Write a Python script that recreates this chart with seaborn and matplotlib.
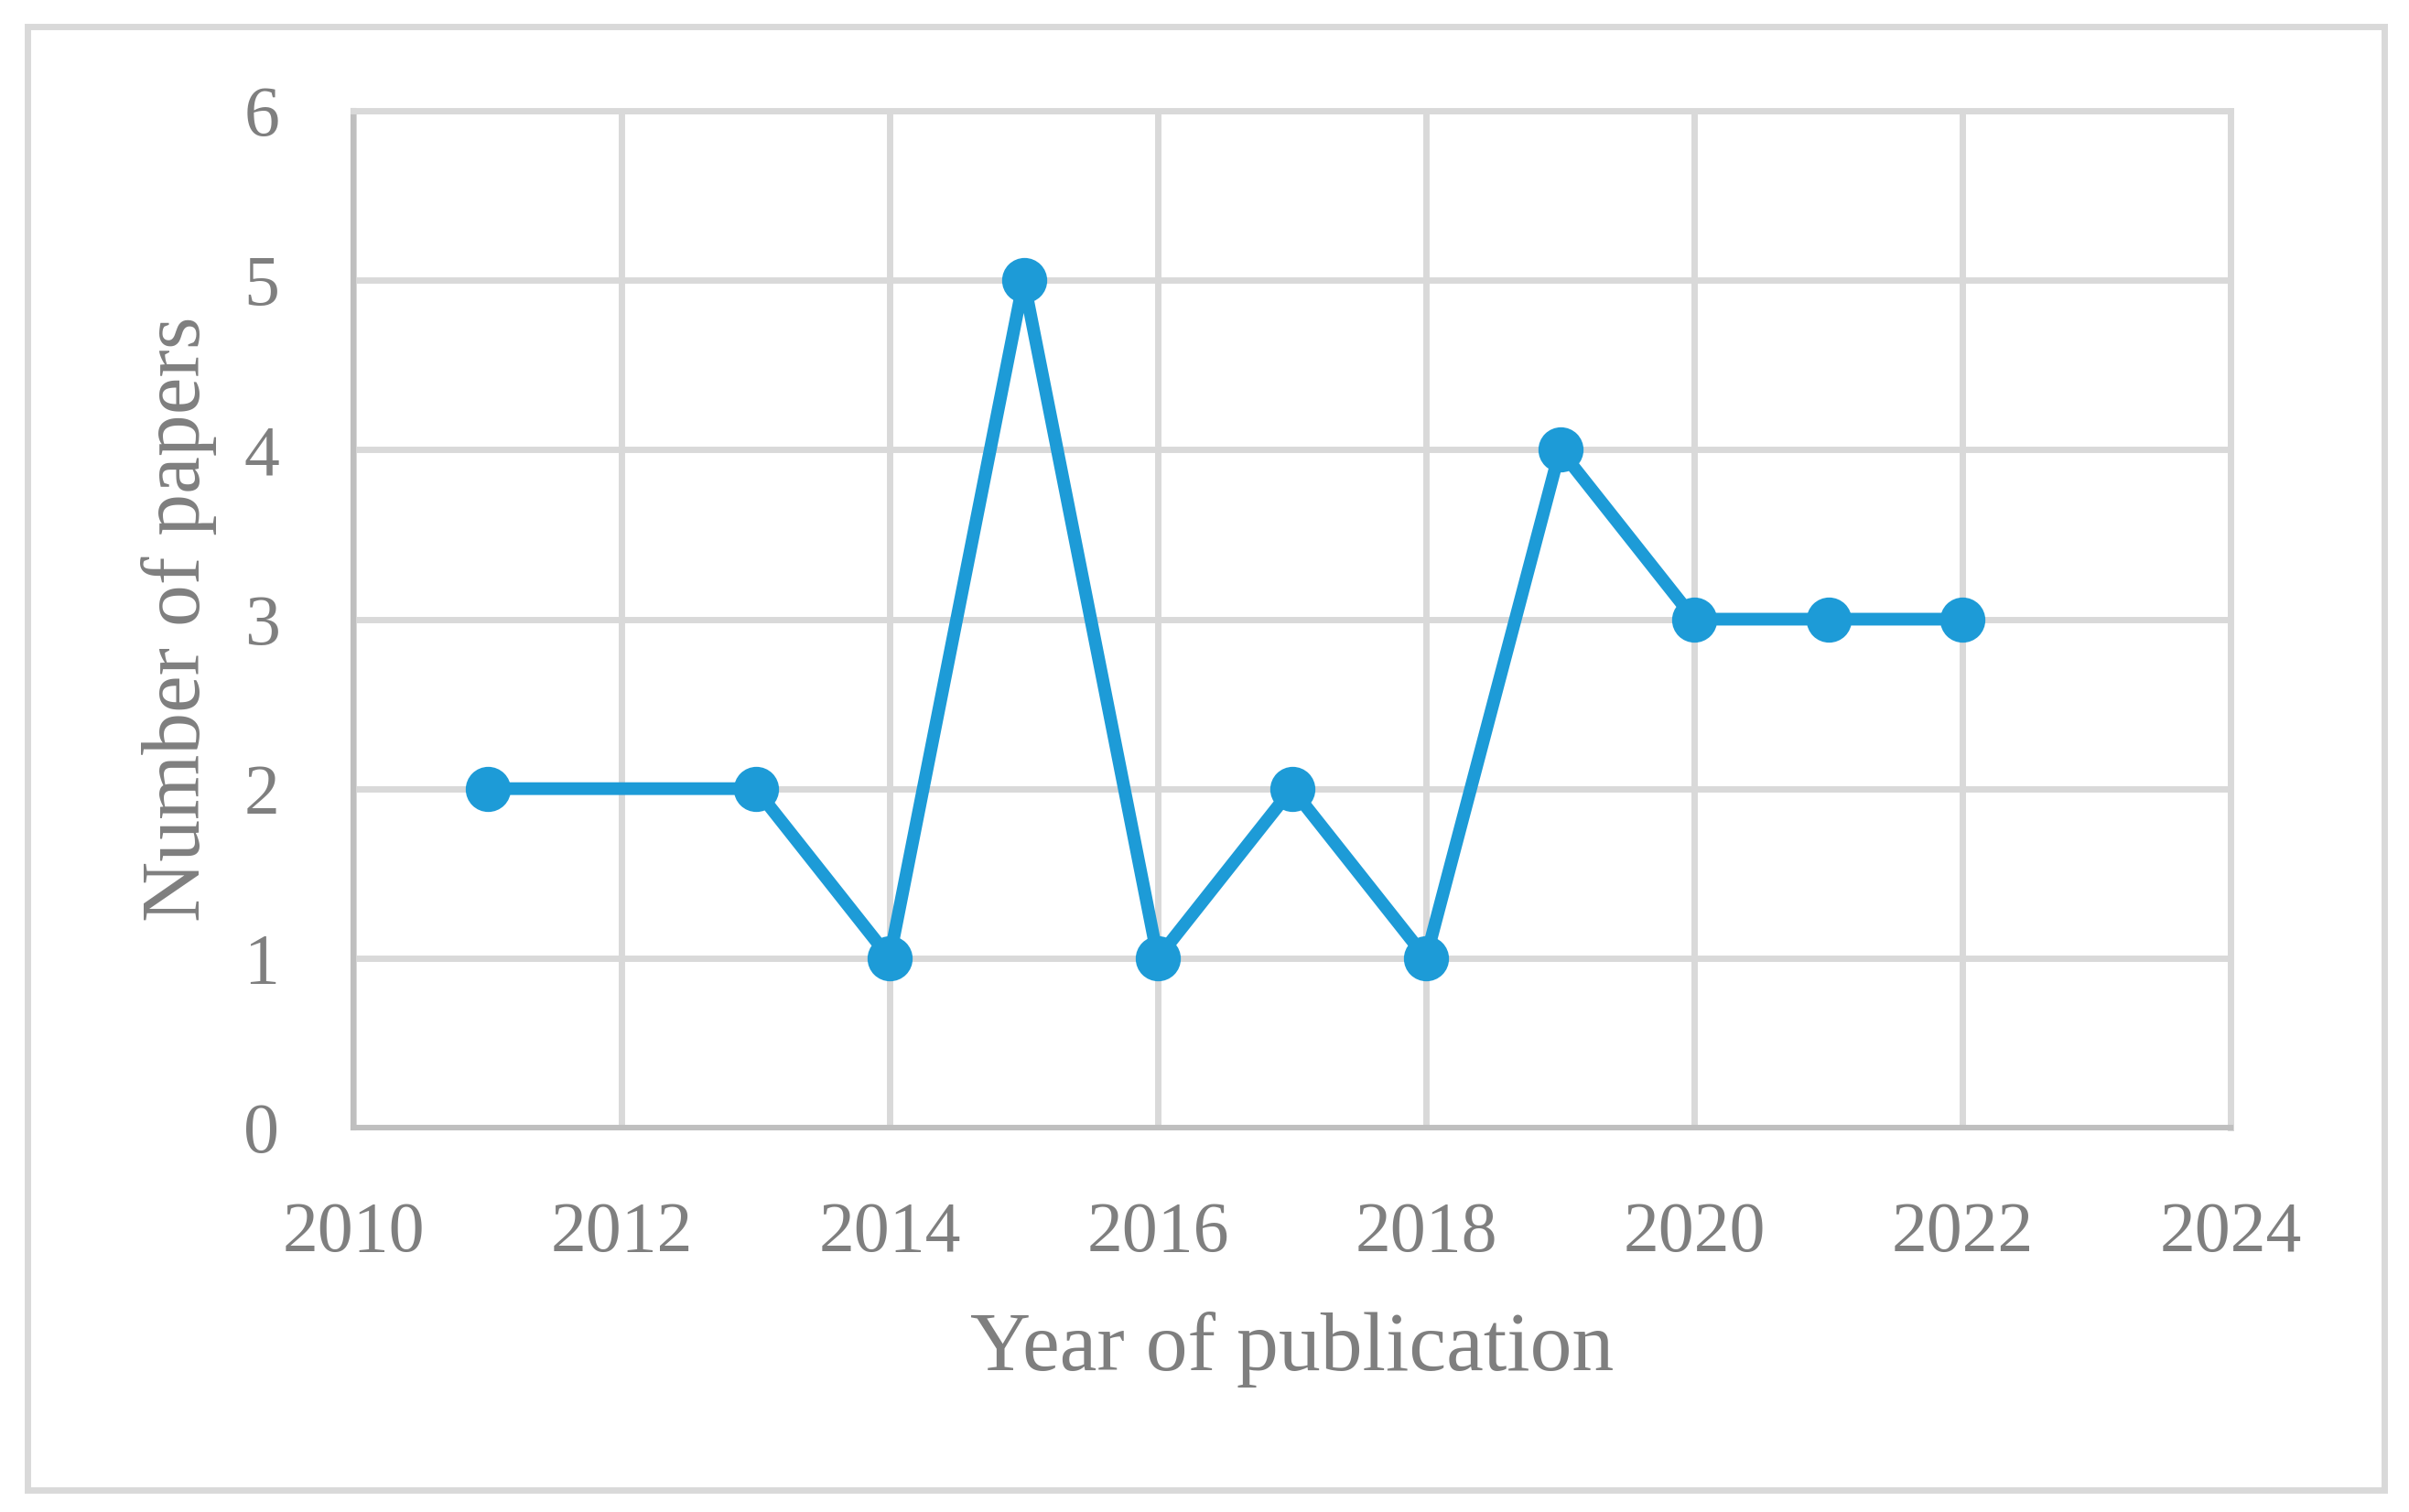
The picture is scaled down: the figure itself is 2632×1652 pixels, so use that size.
import matplotlib
matplotlib.use("Agg")
import matplotlib.pyplot as plt
import seaborn as sns
from matplotlib.patches import Rectangle

years = [2011, 2013, 2014, 2015, 2016, 2017, 2018, 2019, 2020, 2021, 2022]
papers = [2, 2, 1, 5, 1, 2, 1, 4, 3, 3, 3]
x_ticks = [2010, 2012, 2014, 2016, 2018, 2020, 2022, 2024]
y_ticks = [0, 1, 2, 3, 4, 5, 6]

sns.set_style("white")
plt.rcParams['font.family'] = ['Liberation Serif', 'DejaVu Serif']
text_gray = '#7f7f7f'
line_blue = '#1d9bd7'

fig = plt.figure(figsize=(13.16, 8.26), dpi=200)
ax = fig.add_axes([386 / 2632, 1 - 1232 / 1652, 2051 / 2632, 1111 / 1652])

# outer frame around the whole chart
fig.patches.append(Rectangle((29.5 / 2632, 1 - 1627.5 / 1652), 2575 / 2632, 1598.5 / 1652,
                             transform=fig.transFigure, fill=False,
                             edgecolor='#d9d9d9', linewidth=2.5))

sns.lineplot(x=years, y=papers, ax=ax, color=line_blue, linewidth=5.0,
             marker='o', markersize=17, markeredgecolor=line_blue, zorder=3)

ax.set_xlim(2010, 2024)
ax.set_ylim(0, 6)
ax.set_xticks(x_ticks)
ax.set_yticks(y_ticks)
ax.grid(True, color='#d9d9d9', linewidth=2.5)
ax.set_axisbelow(True)

for side in ['left', 'bottom']:
    ax.spines[side].set_color('#bfbfbf')
    ax.spines[side].set_linewidth(2.2)
for side in ['top', 'right']:
    ax.spines[side].set_color('#d9d9d9')
    ax.spines[side].set_linewidth(2.5)

ax.tick_params(axis='both', length=0, labelsize=28, labelcolor=text_gray)
ax.tick_params(axis='x', pad=29)
ax.tick_params(axis='y', pad=29)

ax.set_xlabel('Year of publication', fontsize=33, color=text_gray, va='center')
ax.set_ylabel('Number of papers', fontsize=33, color=text_gray, va='center')
ax.xaxis.set_label_coords(0.5, -0.218)
ax.yaxis.set_label_coords(-0.093, 0.5)

fig.savefig('out.png', dpi=200, facecolor='white')
